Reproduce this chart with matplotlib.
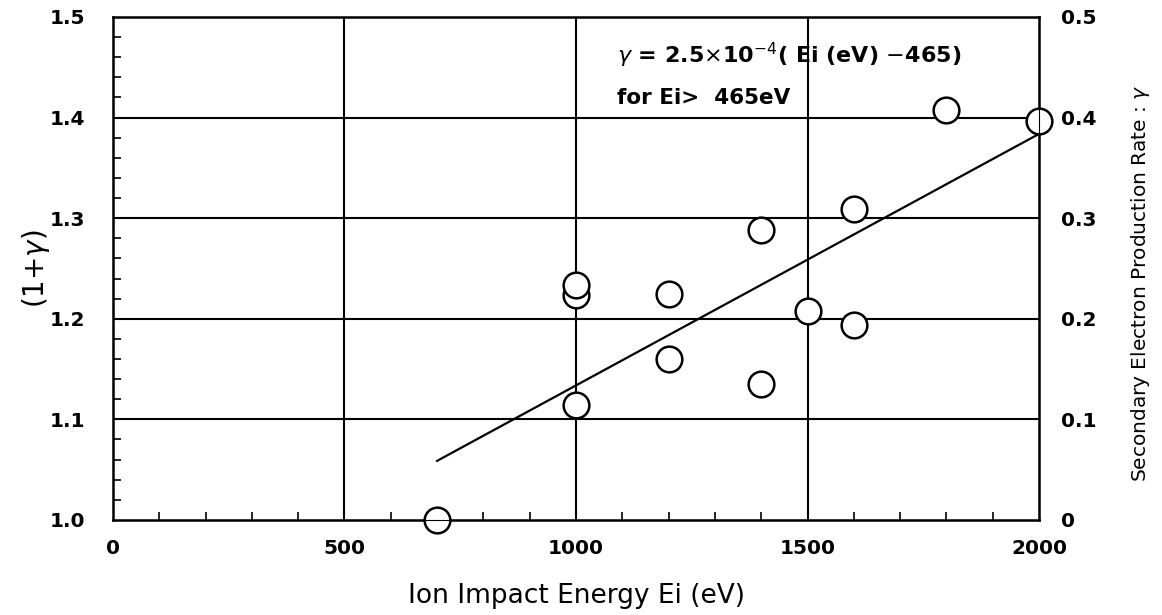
import matplotlib
matplotlib.use("Agg")
import matplotlib.pyplot as plt
from matplotlib.ticker import MultipleLocator, FixedLocator

plt.rcParams['font.family'] = ['DejaVu Sans']

# data
energy = [700, 1000, 1000, 1000, 1200, 1200, 1400, 1400, 1500, 1600, 1600, 1800, 2000]
one_plus_gamma = [1.0, 1.114, 1.224, 1.234, 1.16, 1.225, 1.135, 1.288, 1.208, 1.194, 1.309, 1.407, 1.397]
fit_energy = [700, 2000]
fit_coef = 2.5e-4
fit_offset = 465
x_ticks = [0, 500, 1000, 1500, 2000]
x_ticklabels = ["0", "500", "1000", "1500", "2000"]
y_ticks = [1.0, 1.1, 1.2, 1.3, 1.4, 1.5]
y_ticklabels = ["1.0", "1.1", "1.2", "1.3", "1.4", "1.5"]
r_ticks = [0, 0.1, 0.2, 0.3, 0.4, 0.5]
r_ticklabels = ["0", "0.1", "0.2", "0.3", "0.4", "0.5"]

fig = plt.figure(figsize=(11.62, 6.15), dpi=100)
ax = fig.add_axes([0.0972, 0.1545, 0.797, 0.818])

ax.set_xlim(0, 2000)
ax.set_ylim(1.0, 1.5)

# grid
for gx in [500, 1000, 1500]:
    ax.axvline(gx, color='black', lw=1.5, zorder=1)
for gy in [1.1, 1.2, 1.3, 1.4]:
    ax.axhline(gy, color='black', lw=1.5, zorder=1)

# fit line
fit_y = [1 + fit_coef * (e - fit_offset) for e in fit_energy]
ax.plot(fit_energy, fit_y, color='black', lw=1.6, zorder=2)

# data points
ax.plot(energy, one_plus_gamma, 'o', ms=18.5, mfc='white', mec='black', mew=1.8,
        zorder=3, clip_on=False)

ax.xaxis.set_major_locator(FixedLocator(x_ticks))
ax.set_xticklabels(x_ticklabels)
ax.yaxis.set_major_locator(FixedLocator(y_ticks))
ax.set_yticklabels(y_ticklabels)
ax.xaxis.set_minor_locator(MultipleLocator(100))
ax.yaxis.set_minor_locator(MultipleLocator(0.02))
ax.tick_params(axis='both', which='both', direction='in', labelsize=14.5)
ax.tick_params(axis='x', which='major', length=0, pad=14)
ax.tick_params(axis='y', which='major', length=0, pad=20)
ax.tick_params(axis='both', which='minor', length=6, width=1.2)
for lab in ax.get_xticklabels() + ax.get_yticklabels():
    lab.set_fontweight('bold')

for sp in ax.spines.values():
    sp.set_linewidth(1.8)

ax.set_xlabel("Ion Impact Energy Ei (eV)", fontsize=19, labelpad=18)
ax.set_ylabel(r"(1+$\gamma$)", fontsize=20)
ax.yaxis.set_label_coords(-0.066, 0.5)

ax2 = ax.twinx()
ax2.set_ylim(0, 0.5)
ax2.yaxis.set_major_locator(FixedLocator(r_ticks))
ax2.set_yticklabels(r_ticklabels)
ax2.tick_params(axis='y', length=0, labelsize=14.5, pad=16)
for lab in ax2.get_yticklabels():
    lab.set_fontweight('bold')
ax2.set_ylabel(r"Secondary Electron Production Rate : $\gamma$", fontsize=14.5)
ax2.yaxis.set_label_coords(1.097, 0.47)

ax.text(1088, 1.462, r"$\gamma$ = 2.5$\times$10$^{-4}$( Ei (eV) $-$465)",
        fontsize=16, fontweight='bold', va='center', ha='left', zorder=4)
ax.text(1088, 1.419, "for Ei>  465eV", fontsize=15.5, fontweight='bold',
        va='center', ha='left', zorder=4)

fig.savefig("out.png", dpi=100)
